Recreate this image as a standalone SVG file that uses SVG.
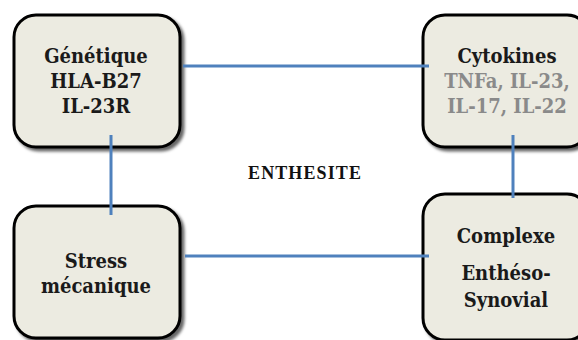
<svg xmlns="http://www.w3.org/2000/svg" width="578" height="340" viewBox="0 0 578 340">
<defs>
<filter id="sh" x="-10%" y="-10%" width="130%" height="130%">
<feDropShadow dx="3" dy="3" stdDeviation="1.8" flood-color="#000" flood-opacity="0.6"/>
</filter>
<style>
.box{fill:#ECEBE1;stroke:#000;stroke-width:3;filter:url(#sh)}
.t{font-family:"DejaVu Serif Condensed","DejaVu Serif","Liberation Serif",serif;font-stretch:condensed;font-weight:bold;font-size:20px;text-anchor:middle;fill:#1a1a1a}
.g{fill:#8a8a8a}
.c{stroke:#4F81BD;stroke-width:3;fill:none}
.lbl{font-family:"Liberation Serif",serif;font-weight:bold;font-size:18px;fill:#111}
</style>
</defs>
<rect width="578" height="340" fill="#fff"/>
<g id="genetique">
<rect class="box" x="14" y="15" width="166" height="132" rx="22"/>
<text class="t" x="96" y="63">Génétique</text>
<text class="t" x="96" y="88">HLA-B27</text>
<text class="t" x="96" y="113">IL-23R</text>
</g>
<g id="cytokines">
<rect class="box" x="423" y="15" width="166" height="132" rx="22"/>
<text class="t" x="507" y="63">Cytokines</text>
<text class="t g" x="507" y="88">TNFa, IL-23,</text>
<text class="t g" x="507" y="113">IL-17, IL-22</text>
</g>
<g id="stress">
<rect class="box" x="14" y="206" width="166" height="132" rx="22"/>
<text class="t" x="96" y="268">Stress</text>
<text class="t" x="96" y="293">mécanique</text>
</g>
<g id="complexe">
<rect class="box" x="423" y="194" width="166" height="146" rx="22"/>
<text class="t" x="506" y="243">Complexe</text>
<text class="t" x="506" y="280">Enthéso-</text>
<text class="t" x="506" y="307">Synovial</text>
</g>
<g id="connectors">
<line class="c" x1="183" y1="66" x2="429" y2="66"/>
<line class="c" x1="185" y1="256" x2="429" y2="256"/>
<line class="c" x1="111" y1="135" x2="111" y2="215"/>
<line class="c" x1="513" y1="135" x2="513" y2="198"/>
</g>
<text class="lbl" x="248" y="179" textLength="113" lengthAdjust="spacing">ENTHESITE</text>
</svg>
